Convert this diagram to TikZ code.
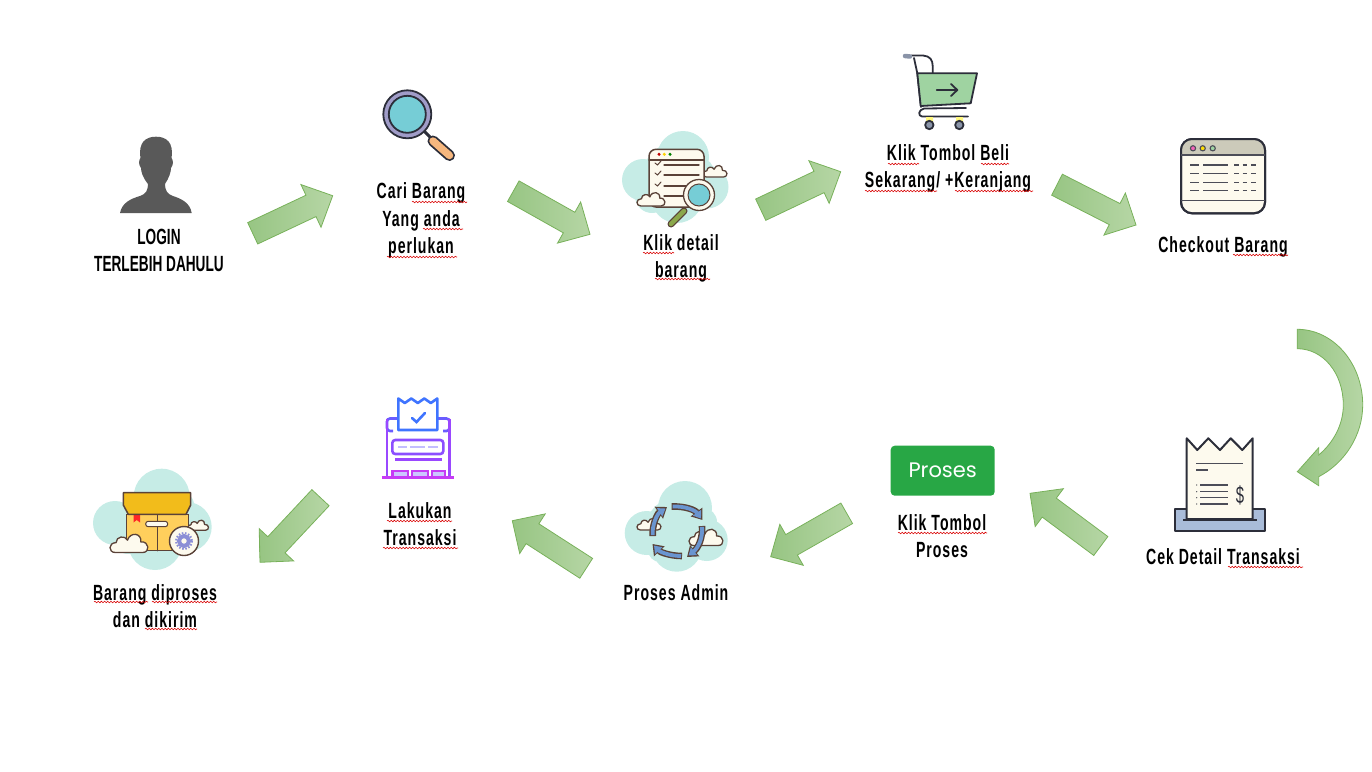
\documentclass[tikz,border=0pt]{standalone}
\usepackage{fontspec}
\usepackage{tikz}
\usetikzlibrary{calc,decorations.pathmorphing,arrows.meta}
\newfontfamily\labelfont[FakeStretch=0.64,LetterSpace=4.5]{Liberation Sans}
\newfontfamily\capsfont[FakeStretch=0.62]{Liberation Sans}
\newfontfamily\buttonfont{Poppins}
\definecolor{arrowdark}{HTML}{97C583}
\definecolor{arrowlight}{HTML}{B6D6A5}
\definecolor{arrowline}{HTML}{78B15A}
\definecolor{inkdark}{HTML}{2C2E3A}
\definecolor{inkbrown}{HTML}{5A4238}
\definecolor{cream}{HTML}{FDFAEE}
\definecolor{blobteal}{HTML}{C6ECE6}
\definecolor{lensteal}{HTML}{76CDD6}
\definecolor{ringviolet}{HTML}{A09CC8}
\definecolor{handleorange}{HTML}{F6B77E}
\definecolor{cartgreen}{HTML}{9FD3A1}
\definecolor{btngreen}{HTML}{28A745}
\definecolor{traysteel}{HTML}{A9BCD9}
\definecolor{titlegrey}{HTML}{CCCABA}
\definecolor{lidyellow}{HTML}{F2BC1B}
\definecolor{boxyellow}{HTML}{FFCF5C}
\definecolor{swirlblue}{HTML}{6A95D0}
\definecolor{gearblue}{HTML}{8C8FD6}
\definecolor{olivegrip}{HTML}{8BA84B}
\definecolor{wheelgrey}{HTML}{8A94A8}
\definecolor{lakuA}{HTML}{3F74FF}
\definecolor{lakuB}{HTML}{6A5CFF}
\definecolor{lakuC}{HTML}{9A48FF}
\definecolor{lakuD}{HTML}{C63CF5}
\tikzset{
    steplabel/.style={align=center,inner sep=0pt,font=\labelfont\bfseries\fontsize{22}{27.5}\selectfont},
    arrowgreen/.style={draw=arrowline,line width=.8pt,line join=miter,left color=arrowdark,right color=arrowlight},
    spelling/.style={draw=red!85!black,line width=.55pt,decorate,decoration={snake,segment length=3.2pt,amplitude=.8pt}},
    cloudline/.style={draw=inkbrown,fill=cream,line width=1.3pt,line join=round},
    iconline/.style={draw=inkdark,line width=1.8pt,line join=round},
    browninner/.style={draw=inkbrown,line width=1.3pt,line cap=round},
    darkthin/.style={draw=inkdark!85,line width=1.1pt},
    swirlout/.style={draw=inkbrown,line width=6.6pt,-{Triangle[length=10pt,width=14pt]}},
    swirlin/.style={draw=swirlblue,line width=3.8pt,-{Triangle[length=7pt,width=9.5pt]}}
}
\newcommand{\blockarrow}[2]{
    \coordinate (#1h) at ($(#2)!24pt!(#1)$);
    \path[arrowgreen] ($(#1)!11.8pt!90:(#2)$) -- ($(#1h)!11.8pt!90:(#2)$) -- ($(#1h)!23.6pt!90:(#2)$) -- (#2)
        -- ($(#1h)!23.6pt!-90:(#2)$) -- ($(#1h)!11.8pt!-90:(#2)$) -- ($(#1)!11.8pt!-90:(#2)$) -- cycle;
}
\newcommand{\cloudshape}[3]{
    \draw[cloudline,shift={(#1,#2)},scale=#3] (-.72,.5) .. controls (-1.1,.5) and (-1.1,-.02) .. (-.68,-.02)
        .. controls (-.68,-.36) and (-.2,-.42) .. (-.08,-.15) .. controls (.08,-.62) and (.68,-.52) .. (.62,-.06)
        .. controls (1.08,-.1) and (1.12,.5) .. (.72,.5) -- cycle;
}
\begin{document}
\begin{tikzpicture}[x=1pt,y=-1pt]
    \useasboundingbox (0,0) rectangle (1372,771);

    \node[steplabel,font=\capsfont\bfseries\fontsize{22}{27}\selectfont] (login) at (159,250.2) {LOGIN\\TERLEBIH DAHULU};
    \node[steplabel] (cari) at (421,220.5) {Cari Barang\\Yang anda\\perlukan};
    \node[steplabel] (detail) at (681,258.5) {Klik detail\\barang};
    \node[steplabel] (beli) at (948,168.5) {Klik Tombol Beli\\Sekarang/ +Keranjang};
    \node[steplabel] (checkout) at (1223,246.5) {Checkout Barang};
    \node[steplabel] (cek) at (1223,557) {Cek Detail Transaksi};
    \node[steplabel] (tombol) at (942,536.3) {Klik Tombol\\Proses};
    \node[steplabel] (admin) at (676,592.7) {Proses Admin};
    \node[steplabel] (lakukan) at (420,524.3) {Lakukan\\Transaksi};
    \node[steplabel] (diproses) at (155,606.3) {Barang diproses\\dan dikirim};

    \foreach \xa/\xb/\ya in {412/467/202,423/463/229,387/457/257,643/674/253,655/710/279,888/919/164,981/1009/164,865/937/191,955/1033/191,1233/1288/255,1228/1303/567,898/987/533,387/452/521,383/458/548,94/148/602,152/217/602,145/197/629}
        \draw[spelling] (\xa,\ya) -- (\xb,\ya);

    \coordinate (a1) at (252.7,233.3);
    \coordinate (a1e) at (332.7,195.7);
    \coordinate (a2) at (513.3,191.2);
    \coordinate (a2e) at (590,234.3);
    \coordinate (a3) at (760.7,209.7);
    \coordinate (a3e) at (840.7,171.7);
    \coordinate (a4) at (1057,184.7);
    \coordinate (a4e) at (1136,225);
    \coordinate (a5) at (1100.8,546);
    \coordinate (a5e) at (1030,493.3);
    \coordinate (a6) at (846.7,513.3);
    \coordinate (a6e) at (770.7,556.7);
    \coordinate (a7) at (586.2,568.3);
    \coordinate (a7e) at (512.3,520.7);
    \coordinate (a8) at (320.5,497.7);
    \coordinate (a8e) at (260,562.3);
    \blockarrow{a1}{a1e}
    \blockarrow{a2}{a2e}
    \blockarrow{a3}{a3e}
    \blockarrow{a4}{a4e}
    \blockarrow{a5}{a5e}
    \blockarrow{a6}{a6e}
    \blockarrow{a7}{a7e}
    \blockarrow{a8}{a8e}
    \path[arrowgreen] (1297.3,329.3) .. controls (1333,329.3) and (1362.7,363) .. (1362.7,405)
        .. controls (1362.7,435) and (1345,463) .. (1318.7,476.7) -- (1318.7,485.7) -- (1297.3,471.7) -- (1318.7,447.7) -- (1318.7,455)
        .. controls (1333,443) and (1343.3,425) .. (1343.3,405) .. controls (1343.3,373) and (1323,348.7) .. (1297.3,348.7) -- cycle;

    \fill[black!65] (120,213) .. controls (122,203) and (130,199) .. (140,196) .. controls (146,194) and (148,190) .. (148,184)
        .. controls (143,178) and (141,172) .. (141,168) .. controls (138,164) and (139,160) .. (140.5,158)
        .. controls (138,142) and (146,136.7) .. (156,136.7) .. controls (166,136.7) and (174,142) .. (171.5,158)
        .. controls (173,160) and (174,164) .. (171,168) .. controls (171,172) and (169,178) .. (165,184)
        .. controls (165,190) and (167,194) .. (173,196) .. controls (182,199) and (190,203) .. (191.7,213) -- cycle;

    \draw[iconline,line width=3pt] (424,131) -- (431,138);
    \draw[draw=inkdark,line width=11pt,line cap=round] (433,141) -- (449.5,155.5);
    \draw[draw=handleorange,line width=7.4pt,line cap=round] (433,141) -- (449.5,155.5);
    \draw[iconline,fill=ringviolet] (407.3,114.3) circle (24);
    \draw[iconline,fill=lensteal] (407.3,114.3) circle (18.5);

    \fill[blobteal] (683,157) circle (26) (643,180) circle (21) (707,187) circle (21.5) (677,197) circle (26) (675,175) circle (32) (652,196) circle (17) (700,172) circle (14);
    \cloudshape{715}{171}{12}
    \draw[draw=inkbrown,fill=cream,line width=1.5pt,rounded corners=7pt] (649,149.3) rectangle (704,207);
    \draw[browninner] (649,160) -- (704,160);
    \fill[red!75!black] (659,154.3) circle (1.7);
    \fill[yellow!70!orange] (664.3,154.3) circle (1.7);
    \fill[green!50!black] (670,154.3) circle (1.7);
    \foreach \ya in {165,175,186,196}
        \draw[browninner] (664,\ya) -- (699,\ya);
    \foreach \ya in {165,175,186}
        \draw[browninner,line width=1pt] (655,\ya-2) -- (657.5,\ya) -- (661,\ya-4);
    \cloudshape{651}{199}{14}
    \draw[draw=inkbrown,line width=7pt,line cap=round] (684,211) -- (671,224);
    \draw[draw=olivegrip,line width=4.4pt,line cap=round] (684,211) -- (671,224);
    \draw[draw=inkbrown,fill=cream,line width=1.3pt] (699,195) circle (15.5);
    \draw[draw=inkbrown,fill=lensteal,line width=1pt] (699,195) circle (11);

    \draw[iconline,line cap=round] (911,55.5) -- (923,55.5) .. controls (930,56) and (932.7,60) .. (932.7,66) -- (932.7,73.3);
    \draw[iconline,line cap=round] (914,58) -- (917.3,73.3) -- (921,107);
    \draw[draw=wheelgrey,line width=4.5pt,line cap=round] (905,56) -- (910,56.5);
    \draw[iconline,fill=cartgreen] (917.3,73.3) -- (977,73.3) -- (970.7,103.3) -- (920.7,106) -- cycle;
    \draw[iconline,line cap=round] (936.7,90) -- (957.3,90);
    \draw[iconline,line cap=round] (951,84) -- (957.3,90) -- (951,96);
    \draw[iconline,line cap=round] (966,108) -- (924,108.5) .. controls (918,110) and (918,116) .. (922,116.5) -- (968,116.5);
    \fill[yellow!50!white] (926,117) rectangle (933,122) (956,117) rectangle (963,122);
    \draw[iconline,fill=wheelgrey] (929.3,125) circle (4.2);
    \draw[iconline,fill=wheelgrey] (959.3,125) circle (4.2);

    \draw[iconline,fill=cream,rounded corners=11pt,line width=2pt] (1181,139) rectangle (1265,213.3);
    \begin{scope}
        \clip[rounded corners=11pt] (1181,139) rectangle (1265,213.3);
        \fill[titlegrey] (1181,139) rectangle (1265,155);
    \end{scope}
    \draw[iconline,rounded corners=11pt,line width=2pt] (1181,139) rectangle (1265,213.3);
    \draw[darkthin,line width=1.3pt] (1181,155) -- (1265,155);
    \draw[darkthin,line width=1.3pt] (1181,200.7) -- (1265,200.7);
    \filldraw[darkthin,fill=magenta!60!white] (1193,148.3) circle (2.6);
    \filldraw[darkthin,fill=yellow!80!orange] (1202.7,148.3) circle (2.6);
    \filldraw[darkthin,fill=cartgreen] (1212.7,148.3) circle (2.6);
    \foreach \ya in {165,173.3,182.3,190.7}{
        \draw[darkthin] (1190,\ya) -- (1199,\ya);
        \draw[darkthin] (1203.3,\ya) -- (1227.7,\ya);
        \draw[darkthin] (1234.3,\ya) -- (1239,\ya);
        \draw[darkthin] (1242.7,\ya) -- (1247.3,\ya);
        \draw[darkthin] (1251,\ya) -- (1256,\ya);
    }

    \draw[iconline,fill=traysteel,line width=1.4pt] (1175,509) rectangle (1265,531);
    \draw[iconline,fill=cream,line width=2pt] (1186.7,519) -- (1186.7,438.3) -- (1197.3,450) -- (1208.3,438.3) -- (1220,450) -- (1230.7,438.3) -- (1242.3,450) -- (1252.7,438.3) -- (1252.7,519) -- cycle;
    \draw[iconline,line width=2.4pt] (1183.3,520) -- (1256.7,520);
    \draw[darkthin] (1196,463.3) -- (1243.3,463.3);
    \draw[darkthin] (1196,470) -- (1208.3,470);
    \foreach \ya in {485,491.7,497.7,504}{
        \draw[darkthin] (1200,\ya) -- (1228.3,\ya);
        \fill[inkdark] (1196.7,\ya) circle (.6);
    }
    \node[inner sep=0pt,text=inkdark,font=\capsfont\fontsize{24}{24}\selectfont] (dollar) at (1240,495) {\$};

    \node[fill=btngreen,rounded corners=4pt,minimum width=104pt,minimum height=50pt,inner sep=0pt,text=white,font=\buttonfont\fontsize{21}{21}\selectfont] (prosesbtn) at (942.7,470.7) {Proses};

    \fill[blobteal] (685,508) circle (27) (646.7,533) circle (22) (706.7,540) circle (21) (676.7,546.7) circle (25) (676,528) circle (30) (660,550) circle (12) (703,522) circle (14);
    \cloudshape{649}{524}{12}
    \cloudshape{706}{537}{17}
    \draw[swirlout] (671.7,506.5) .. controls (685,506) and (695,510) .. (702.5,520);
    \draw[swirlin,shorten <=.8pt] (671.7,506.5) .. controls (685,506) and (695,510) .. (701,518.5);
    \draw[swirlout] (702,526) .. controls (703,538) and (698,548) .. (687,557);
    \draw[swirlin,shorten <=.8pt] (702,526) .. controls (703,538) and (698,548) .. (688.5,555.5);
    \draw[swirlout] (682,556) .. controls (670,556) and (660,552) .. (652.5,544);
    \draw[swirlin,shorten <=.8pt] (682,556) .. controls (670,556) and (660,552) .. (654,545.5);
    \draw[swirlout] (652.7,536) .. controls (652,525) and (657,514) .. (667,507);
    \draw[swirlin,shorten <=.8pt] (652.7,536) .. controls (652,525) and (657,514) .. (665.5,508.5);

    \draw[draw=lakuB,line width=2.6pt,rounded corners=3pt] (393,431) -- (387,431) -- (387,418.5) -- (449.5,418.5) -- (449.5,431) -- (443,431);
    \draw[draw=lakuC,line width=2.6pt] (387,418.5) -- (387,477);
    \draw[draw=lakuC,line width=2.6pt] (449.5,418.5) -- (449.5,477);
    \draw[draw=lakuA,fill=white,line width=2.6pt,line join=round] (398.3,430) -- (398.3,398.5) -- (404.8,403) -- (411.3,398.5) -- (417.8,403) -- (424.3,398.5) -- (430.8,403) -- (437.3,398.5) -- (437.3,430) -- cycle;
    \draw[draw=lakuA,line width=2.6pt,line cap=round] (412,418) -- (416.5,422) -- (425,413);
    \draw[draw=lakuC!70!lakuB,line width=2.6pt,rounded corners=3pt] (392.3,440) rectangle (443.3,454);
    \foreach \xa/\xb in {398/407,410/425,428/438}
        \draw[draw=lakuB!40!white,line width=2pt] (\xa,447) -- (\xb,447);
    \draw[draw=lakuC,line width=2.6pt] (395,459.3) -- (441.7,459.3);
    \foreach \xa/\xb in {392.5/408,412/428,432/445}{
        \filldraw[draw=lakuD,fill=lakuB!35!white,line width=2.4pt] (\xa,477) -- (\xa,471) -- (\xb,471) -- (\xb,477) -- cycle;
    }
    \draw[draw=lakuD,line width=2.4pt] (382.3,477.5) -- (454,477.5);

    \fill[blobteal] (161.7,496.7) circle (28) (115,523) circle (22) (186.7,527) circle (25) (155,543) circle (27) (150,520) circle (32) (128,540) circle (14) (180,505) circle (14);
    \cloudshape{198}{525}{10.5}
    \draw[draw=inkbrown,fill=boxyellow,line width=1.5pt] (126.7,514.3) rectangle (188.3,550.7);
    \draw[browninner] (157.3,514.3) -- (157.3,550.7);
    \fill[red!80!pink] (133.5,514.3) -- (140,514.3) -- (140,522.5) -- (136.7,520) -- (133.5,522.5) -- cycle;
    \draw[draw=inkbrown,fill=cream,line width=1pt,rounded corners=2.5pt] (145.7,521.3) rectangle (167.7,526.7);
    \draw[draw=inkbrown,fill=lidyellow,line width=1.5pt,line join=round] (123.3,492.7) -- (190.7,492.7) -- (190.7,505) -- (186,514.3) -- (128.3,514.3) -- (123.3,505) -- cycle;
    \cloudshape{129}{543}{19}
    \draw[draw=inkbrown,fill=cream,line width=1.4pt] (184,541) circle (14.5);
    \draw[draw=gearblue,line width=2pt,dash pattern=on 1.6pt off 1.6pt] (184,541) circle (8);
    \draw[draw=gearblue,line width=4pt] (184,541) circle (5);
\end{tikzpicture}
\end{document}
